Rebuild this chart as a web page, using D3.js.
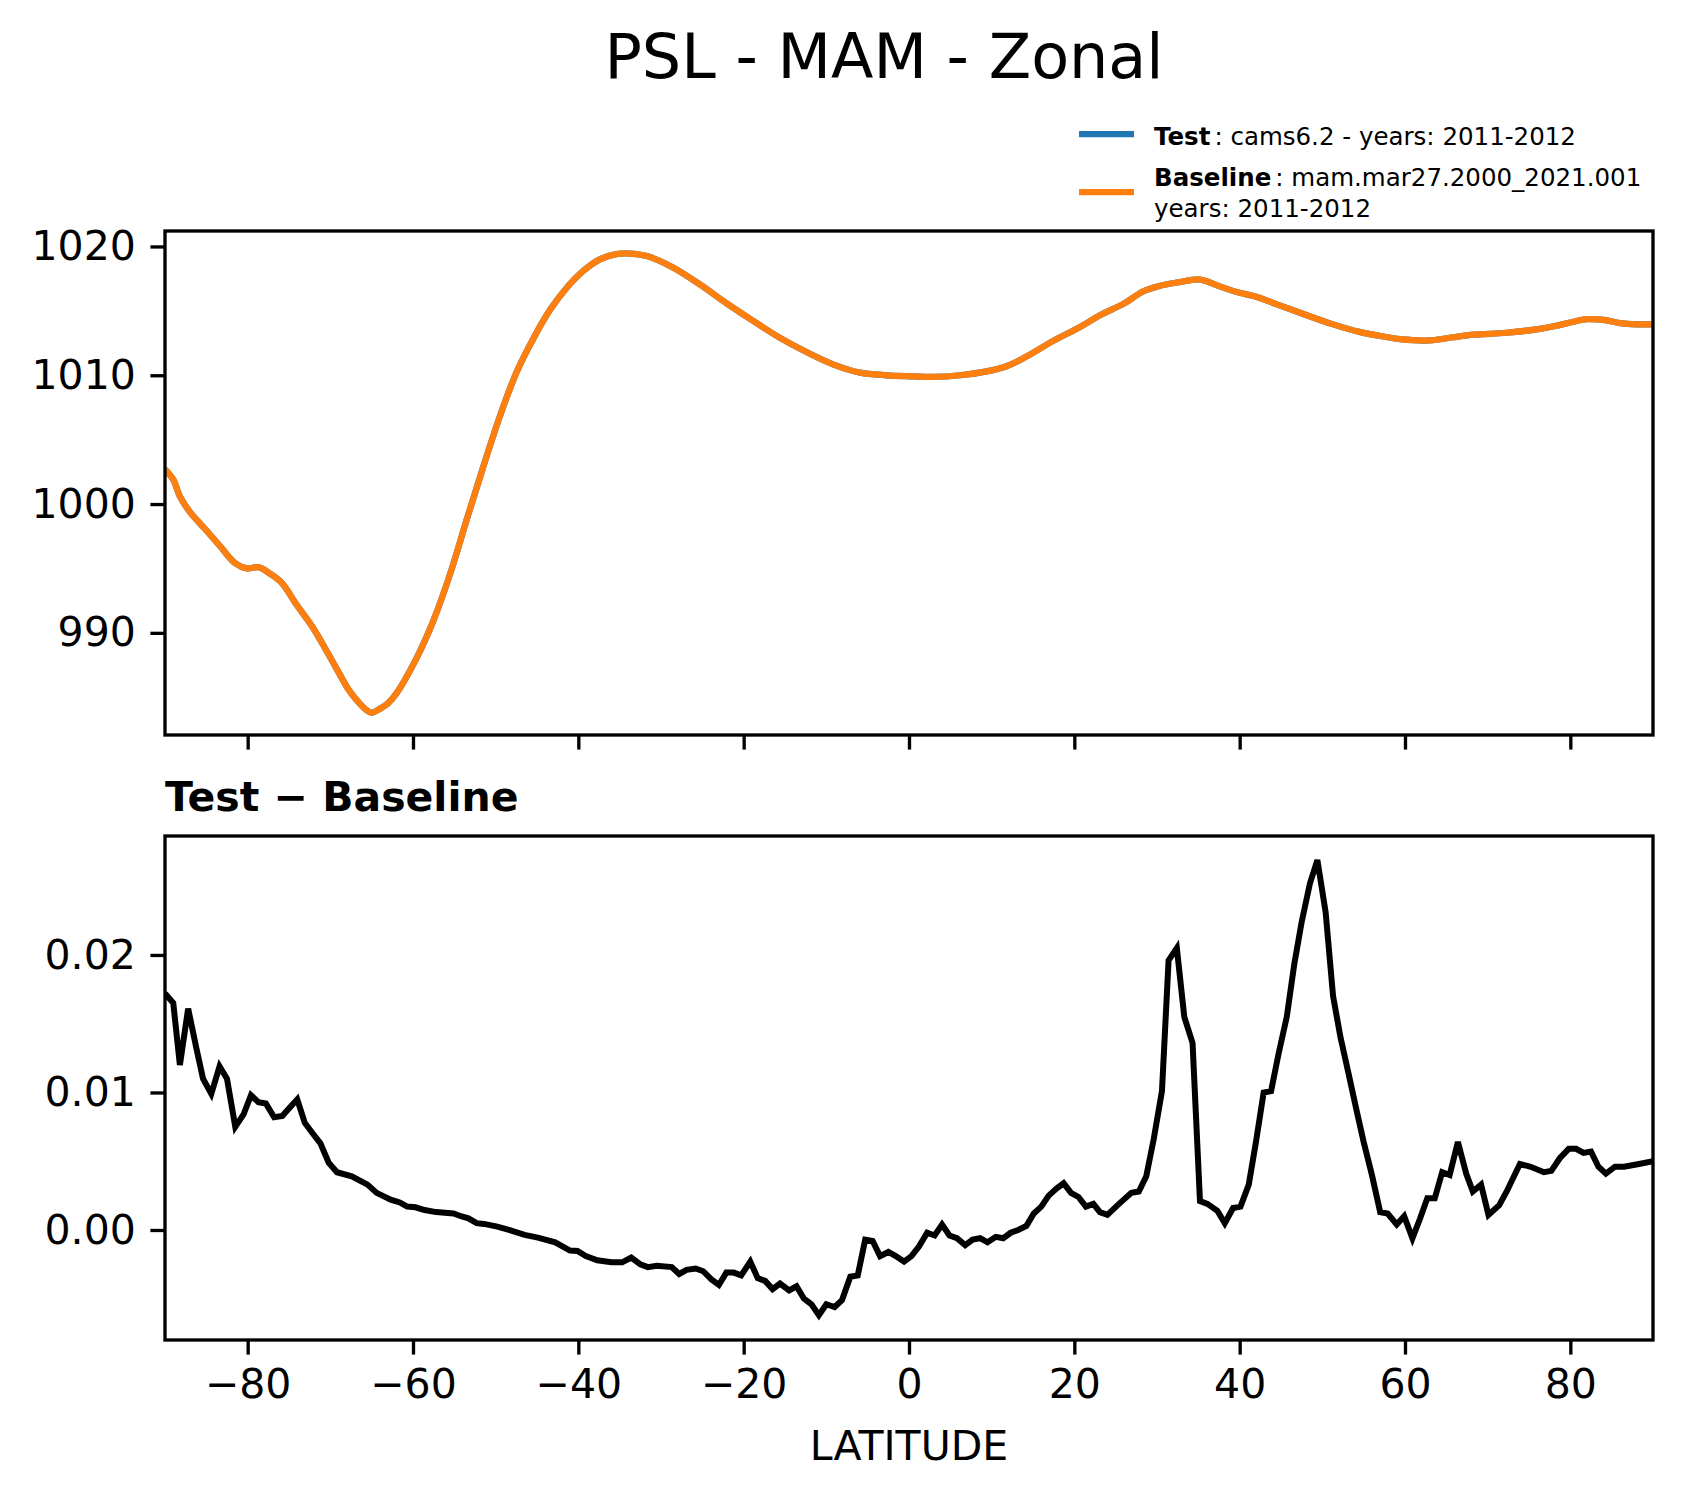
<!DOCTYPE html>
<html>
<head>
<meta charset="utf-8">
<script src="https://cdn.jsdelivr.net/npm/d3@7"></script>
<style>
  body { margin: 0; background: #fff; }
  svg { display: block; font-family: "DejaVu Sans", sans-serif; }
</style>
</head>
<body>
<div id="graf"></div>
<script>
// Datos
const titulo = "PSL - MAM - Zonal";
const subtitulo = "Test \u2212 Baseline";
const etiquetaX = "LATITUDE";

// PSL zonal (hPa), Test y Baseline se superponen
const latPsl = [-90, -89.0, -88.2, -87.0, -85.2, -83.3, -81.5, -80.1, -78.7, -77.3, -75.9, -74.1, -72.1, -70.9,
  -69.4, -68.0, -67.1, -65.8, -65.0, -64.3, -63.0, -62.0, -59.6, -57.5, -55.5, -53.5, -51.5, -49.5, -47.5,
  -45.4, -43.4, -41.4, -39.4, -37.4, -35.4, -33.8, -31.7, -28.5, -25.3, -22.1, -18.8, -15.6, -12.4, -9.2,
  -5.9, -2.7, 0.5, 2.9, 6.2, 9.4, 11.8, 14.2, 17.4, 20.7, 23.1, 26.1, 28.3, 30.4, 32.4, 35.0, 36.0, 37.6,
  40.0, 42.0, 44.5, 47.3, 51.3, 54.6, 57.0, 59.4, 63.0, 65.8, 68.3, 72.3, 76.3, 78.0, 80.0, 82.0, 84.0,
  86.0, 88.0, 90.0];
const pslBaseline = [1002.7, 1001.9, 1000.6, 999.4, 998.1, 996.7, 995.4, 995.0, 995.1, 994.6, 993.9, 992.2,
  990.4, 989.1, 987.4, 985.8, 985.0, 984.1, 983.8, 984.0, 984.55, 985.3, 988.0, 991.0, 994.6, 998.8, 1002.9,
  1006.8, 1010.2, 1012.9, 1015.1, 1016.8, 1018.1, 1019.0, 1019.4, 1019.45, 1019.25, 1018.35, 1017.05,
  1015.6, 1014.2, 1012.9, 1011.8, 1010.85, 1010.2, 1010.0, 1009.92, 1009.87, 1010.0, 1010.3, 1010.7,
  1011.45, 1012.65, 1013.75, 1014.65, 1015.6, 1016.5, 1016.95, 1017.2, 1017.45, 1017.3, 1016.9, 1016.4,
  1016.1, 1015.5, 1014.85, 1013.95, 1013.35, 1013.05, 1012.8, 1012.7, 1012.95, 1013.15, 1013.3, 1013.6,
  1013.8, 1014.1, 1014.35, 1014.3, 1014.05, 1013.95, 1013.95];
// Test difiere en < 0.03 hPa: a esta escala es la misma curva
const pslTest = pslBaseline;

// Diferencia Test - Baseline
const latDif = [-90.0, -89.0, -88.2, -87.2, -86.2, -85.4, -84.4, -83.4, -82.5, -81.5, -80.5, -79.6, -78.7,
  -77.8, -76.8, -75.8, -74.9, -74.0, -73.1, -72.1, -71.2, -70.2, -69.2, -67.4, -65.5, -64.4, -62.7, -61.6,
  -60.7, -59.7, -58.6, -57.2, -55.1, -54.2, -53.3, -52.3, -51.4, -49.8, -48.4, -46.5, -44.9, -42.8, -41.0,
  -40.1, -39.1, -37.7, -36.0, -34.7, -33.6, -32.5, -31.6, -30.5, -28.7, -27.8, -26.9, -25.8, -24.9, -23.9,
  -23.0, -22.1, -21.2, -20.3, -19.2, -18.3, -17.4, -16.5, -15.6, -14.5, -13.6, -12.7, -11.8, -10.9, -10.0,
  -9.0, -8.1, -7.1, -6.2, -5.3, -4.4, -3.5, -2.5, -1.6, -0.6, 0.3, 1.2, 2.2, 3.1, 4.0, 4.9, 5.8, 6.8, 7.7,
  8.6, 9.5, 10.5, 11.4, 12.3, 13.2, 14.2, 15.1, 16.0, 16.9, 17.8, 18.7, 19.6, 20.5, 21.4, 22.3, 23.1, 24.0,
  25.4, 26.9, 27.8, 28.7, 29.6, 30.6, 31.4, 32.4, 33.3, 34.3, 35.2, 36.1, 37.3, 38.2, 39.2, 40.1, 41.1,
  42.0, 42.9, 43.8, 44.7, 45.7, 46.6, 47.5, 48.5, 49.4, 50.4, 51.3, 52.2, 53.2, 54.1, 55.0, 56.0, 57.0,
  57.9, 59.0, 59.9, 60.9, 61.8, 62.7, 63.6, 64.5, 65.4, 66.4, 67.4, 68.2, 69.2, 70.1, 71.4, 72.3, 73.9,
  75.2, 76.8, 77.7, 78.7, 79.8, 80.7, 81.6, 82.5, 83.4, 84.3, 85.4, 86.5, 88.3, 90.0];
const valDif = [0.0172, 0.0165, 0.0120, 0.0161, 0.0132, 0.0110, 0.0099, 0.0119, 0.0110, 0.0075, 0.0084,
  0.0098, 0.0093, 0.0092, 0.0082, 0.0083, 0.0089, 0.0095, 0.0078, 0.0070, 0.0063, 0.0049, 0.0042, 0.0039,
  0.0033, 0.0027, 0.0022, 0.0020, 0.0017, 0.00165, 0.00145, 0.0013, 0.0012, 0.0010, 0.00085, 0.0005,
  0.00044, 0.00024, 0.0, -0.00036, -0.00056, -0.0009, -0.0015, -0.00153, -0.0019, -0.0022, -0.00235,
  -0.00235, -0.0020, -0.0025, -0.0027, -0.0026, -0.0027, -0.0032, -0.0029, -0.0028, -0.0030, -0.0036,
  -0.0040, -0.0031, -0.0031, -0.0033, -0.0023, -0.0035, -0.0037, -0.0043, -0.0039, -0.0044, -0.0041,
  -0.0050, -0.0054, -0.0062, -0.0054, -0.0056, -0.0051, -0.0034, -0.0033, -0.0007, -0.0008, -0.0019,
  -0.0016, -0.0019, -0.0023, -0.0019, -0.0012, -0.0002, -0.0004, 0.0004, -0.0004, -0.0006, -0.0011,
  -0.0007, -0.0006, -0.0009, -0.0005, -0.0006, -0.0002, 0.0, 0.0003, 0.0012, 0.0017, 0.0025, 0.0030,
  0.0034, 0.0027, 0.0024, 0.0017, 0.0019, 0.0013, 0.0011, 0.0019, 0.0027, 0.0028, 0.0039, 0.0066, 0.0101,
  0.0196, 0.0205, 0.0155, 0.0136, 0.0021, 0.0019, 0.0014, 0.0005, 0.0016, 0.0017, 0.0033, 0.0065, 0.0100,
  0.0101, 0.0128, 0.0155, 0.0193, 0.0224, 0.0252, 0.0269, 0.0231, 0.0170, 0.0140, 0.0113, 0.0088, 0.0064,
  0.0040, 0.0013, 0.0012, 0.0004, 0.0010, -0.0006, 0.0008, 0.0023, 0.0023, 0.0042, 0.0040, 0.0064, 0.0041,
  0.0028, 0.0033, 0.0011, 0.0018, 0.0028, 0.0048, 0.0046, 0.0042, 0.0043, 0.0052, 0.0059, 0.0059, 0.0056,
  0.0057, 0.0046, 0.0041, 0.0046, 0.0046, 0.0048, 0.0050];

const ticksX = [-80, -60, -40, -20, 0, 20, 40, 60, 80];
const ticksPsl = [990, 1000, 1010, 1020];
const ticksDif = [0, 0.01, 0.02];

const leyendaNombres = ["Test", "Baseline"];
const leyendaTextos = [[": cams6.2 - years: 2011-2012"], [": mam.mar27.2000_2021.001", "years: 2011-2012"]];
const colores = ["#1f77b4", "#ff7f0e"];

// Tamaños (figura a 300 dpi)
const ancho_total = 1683, alto_total = 1496;
const izq = 165, der = 1653;
const panel1 = { top: 231, bottom: 735 };
const panel2 = { top: 836, bottom: 1340 };
const grosorEje = 3.33, largoTick = 14.6, fuente = 41;

svg = d3.select("#graf").append("svg")
  .attr("width", ancho_total)
  .attr("height", alto_total);

// Escaladores
x = d3.scaleLinear().domain([-90, 90]).range([izq, der]);
yPsl = d3.scaleLinear().domain([982.07, 1021.2]).range([panel1.bottom, panel1.top]);
yDif = d3.scaleLinear().domain([-0.0080, 0.02865]).range([panel2.bottom, panel2.top]);

function ejes(panel, yScale, yTicks, yFmt, conEtiquetasX) {
  const g = svg.append("g");
  g.append("g")
    .attr("transform", `translate(0, ${panel.bottom})`)
    .call(d3.axisBottom(x).tickValues(ticksX).tickSize(largoTick).tickPadding(largoTick)
      .tickFormat(conEtiquetasX ? d3.format("d") : () => ""))
    .call(estiloEje);
  g.append("g")
    .attr("transform", `translate(${izq}, 0)`)
    .call(d3.axisLeft(yScale).tickValues(yTicks).tickSize(largoTick).tickPadding(largoTick)
      .tickFormat(d3.format(yFmt)))
    .call(estiloEje);
  // marco
  g.append("rect")
    .attr("x", izq).attr("y", panel.top)
    .attr("width", der - izq).attr("height", panel.bottom - panel.top)
    .attr("fill", "none").attr("stroke", "black").attr("stroke-width", grosorEje);
}

function estiloEje(sel) {
  sel.select(".domain").remove();
  sel.selectAll(".tick line").attr("stroke", "black").attr("stroke-width", grosorEje);
  sel.selectAll(".tick text").attr("fill", "black")
    .style("font-size", fuente + "px").style("font-family", "DejaVu Sans");
}

// Clip de cada panel
const defs = svg.append("defs");
[panel1, panel2].forEach((p, i) => {
  defs.append("clipPath").attr("id", "clip" + i).append("rect")
    .attr("x", izq).attr("y", p.top).attr("width", der - izq).attr("height", p.bottom - p.top);
});

// Panel superior
lineaPsl = d3.line()
  .x((d, i) => x(latPsl[i]))
  .y((d) => yPsl(d))
  .curve(d3.curveCatmullRom.alpha(0.5));

[pslTest, pslBaseline].forEach((serie, i) => {
  svg.append("path")
    .attr("clip-path", "url(#clip0)")
    .attr("fill", "none")
    .attr("stroke", colores[i])
    .attr("stroke-width", 6.25)
    .attr("stroke-linejoin", "round")
    .attr("d", lineaPsl(serie));
});
ejes(panel1, yPsl, ticksPsl, "d", false);

// Panel inferior
lineaDif = d3.line()
  .x((d, i) => x(latDif[i]))
  .y((d) => yDif(d));

svg.append("path")
  .attr("clip-path", "url(#clip1)")
  .attr("fill", "none")
  .attr("stroke", "black")
  .attr("stroke-width", 6)
  .attr("stroke-linejoin", "miter")
  .attr("d", lineaDif(valDif));
ejes(panel2, yDif, ticksDif, ".2f", true);

// Textos
svg.append("text")
  .attr("x", 884).attr("y", 78)
  .attr("text-anchor", "middle")
  .style("font-size", "62px")
  .text(titulo);

svg.append("text")
  .attr("x", izq).attr("y", 811)
  .style("font-size", "41px").style("font-weight", "bold")
  .text(subtitulo);

svg.append("text")
  .attr("x", (izq + der) / 2).attr("y", 1460)
  .attr("text-anchor", "middle")
  .style("font-size", fuente + "px")
  .text(etiquetaX);

// Leyenda
const leyY = [134, 192];
const leyBase = [145, 186];
leyendaNombres.forEach((nombre, i) => {
  svg.append("line")
    .attr("x1", 1079).attr("x2", 1134)
    .attr("y1", leyY[i]).attr("y2", leyY[i])
    .attr("stroke", colores[i]).attr("stroke-width", 6.25);
  const t = svg.append("text")
    .attr("x", 1154).attr("y", leyBase[i])
    .style("font-size", "24.5px");
  t.append("tspan").style("font-weight", "bold").text(nombre);
  t.append("tspan").attr("dx", 4).text(leyendaTextos[i][0]);
  for (let k = 1; k < leyendaTextos[i].length; k++) {
    svg.append("text")
      .attr("x", 1154).attr("y", leyBase[i] + 31 * k)
      .style("font-size", "24.5px")
      .text(leyendaTextos[i][k]);
  }
});
</script>
</body>
</html>
